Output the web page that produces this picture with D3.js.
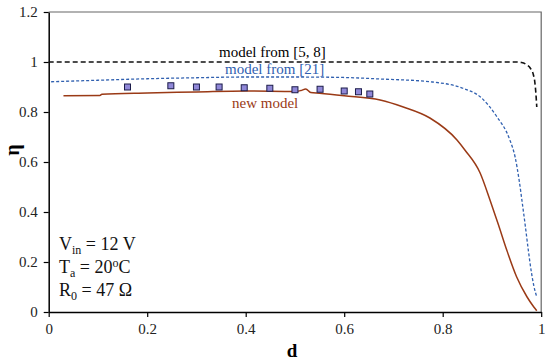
<!DOCTYPE html>
<html><head><meta charset="utf-8">
<script src="https://cdn.jsdelivr.net/npm/d3@7"></script>
<style>body{margin:0;background:#fff}svg{display:block}</style>
</head><body>
<svg id="c" width="550" height="362"></svg>
<script>
// ----- data -----
const xTicks = [0, 0.2, 0.4, 0.6, 0.8, 1];
const yTicks = [0, 0.2, 0.4, 0.6, 0.8, 1, 1.2];
const xTickLabels = ["0", "0.2", "0.4", "0.6", "0.8", "1"];
const yTickLabels = ["0", "0.2", "0.4", "0.6", "0.8", "1", "1.2"];

const model58_d   = [0, 0.2, 0.4, 0.6, 0.8, 0.95, 0.96, 0.97, 0.978, 0.984, 0.987, 0.989, 0.991];
const model58_eta = [1.0, 1.0, 1.0, 1.0, 1.0, 1.0, 0.998, 0.99, 0.975, 0.95, 0.92, 0.88, 0.82];

const model21_d   = [0.005, 0.1, 0.2, 0.3, 0.4, 0.5, 0.6, 0.673, 0.774, 0.841, 0.876, 0.91, 0.936, 0.947, 0.955, 0.962, 0.968, 0.974, 0.98, 0.985, 0.991];
const model21_eta = [0.921, 0.927, 0.933, 0.937, 0.94, 0.94, 0.938, 0.932, 0.921, 0.895, 0.861, 0.781, 0.69, 0.62, 0.53, 0.43, 0.34, 0.245, 0.16, 0.105, 0.06];

const newModel_d   = [0.03, 0.104, 0.108, 0.2, 0.3, 0.4, 0.5, 0.512, 0.522, 0.532, 0.55, 0.6, 0.673, 0.72, 0.774, 0.829, 0.845, 0.876, 0.896, 0.913, 0.93, 0.95, 0.971, 0.985, 0.991];
const newModel_eta = [0.865, 0.866, 0.871, 0.876, 0.88, 0.884, 0.882, 0.886, 0.892, 0.878, 0.875, 0.865, 0.848, 0.82, 0.776, 0.688, 0.648, 0.556, 0.448, 0.35, 0.248, 0.141, 0.061, 0.02, 0.005];

const meas_d   = [0.16, 0.248, 0.30, 0.346, 0.397, 0.449, 0.50, 0.551, 0.60, 0.629, 0.652];
const meas_eta = [0.90, 0.905, 0.90, 0.90, 0.897, 0.895, 0.889, 0.891, 0.884, 0.881, 0.872];

// ----- drawing -----
const svg = d3.select("#c");
const x = d3.scaleLinear().domain([0, 1]).range([48.7, 541.2]);
const y = d3.scaleLinear().domain([0, 1.2]).range([312, 12]);
const font = "'Liberation Serif', 'DejaVu Serif', serif";

// frame (top/right)
svg.append("path").attr("d", `M${x(0)},${y(1.2)}H${x(1)}V${y(0)}`)
  .attr("fill", "none").attr("stroke", "#666").attr("stroke-width", 1.2);

const xAxis = svg.append("g").attr("transform", `translate(0,${y(0)})`)
  .call(d3.axisBottom(x).tickValues(xTicks).tickFormat((d, i) => xTickLabels[i]).tickSize(5).tickSizeOuter(0).tickPadding(6));
const yAxis = svg.append("g").attr("transform", `translate(${x(0)},0)`)
  .call(d3.axisLeft(y).tickValues(yTicks).tickFormat((d, i) => yTickLabels[i]).tickSize(5).tickSizeOuter(0).tickPadding(6));
[xAxis, yAxis].forEach(a => {
  a.attr("font-family", font).attr("font-size", 15);
  a.select(".domain").attr("stroke", "#000").attr("stroke-width", 1.5);
  a.selectAll(".tick line").attr("stroke", "#000").attr("stroke-width", 1.2);
  a.selectAll(".tick text").attr("fill", "#222");
});

const line = d3.line().x(p => x(p[0])).y(p => y(p[1])).curve(d3.curveMonotoneX);
const zip = (a, b) => a.map((v, i) => [v, b[i]]);

svg.append("path").datum(zip(model58_d, model58_eta)).attr("d", line)
  .attr("fill", "none").attr("stroke", "#111").attr("stroke-width", 1.6).attr("stroke-dasharray", "5,3");
svg.append("path").datum(zip(model21_d, model21_eta)).attr("d", line)
  .attr("fill", "none").attr("stroke", "#3060b0").attr("stroke-width", 1.3).attr("stroke-dasharray", "3,2");
svg.append("path").datum(zip(newModel_d, newModel_eta)).attr("d", line)
  .attr("fill", "none").attr("stroke", "#9a3a16").attr("stroke-width", 1.5);

svg.append("g").selectAll("rect").data(zip(meas_d, meas_eta)).join("rect")
  .attr("x", p => x(p[0]) - 3).attr("y", p => y(p[1]) - 3)
  .attr("width", 6).attr("height", 6)
  .attr("fill", "#9088d8").attr("stroke", "#1c1c4a").attr("stroke-width", 1);

// all free text in one group with serif font
const tg = svg.append("g").attr("font-family", font);
const lbl = (t, xx, yy, c) => tg.append("text").attr("x", xx).attr("y", yy)
  .attr("font-size", 15).attr("fill", c).text(t);
lbl("model from [5, 8]", 219, 57, "#000");
lbl("model from [21]", 225, 74, "#3060b0");
lbl("new model", 232, 108, "#9a3a16");

// axis titles
tg.append("text").attr("x", 292).attr("y", 357).attr("text-anchor", "middle")
  .attr("font-size", 19).attr("font-weight", "bold").text("d");
tg.append("text").attr("transform", "translate(19,150) rotate(-90)").attr("text-anchor", "middle")
  .attr("font-size", 20).attr("font-weight", "bold").text("η");

// annotation
const ann = tg.append("text").attr("font-size", 18).attr("fill", "#111");
const l1 = ann.append("tspan").attr("x", 59).attr("y", 250);
l1.append("tspan").text("V");
l1.append("tspan").attr("font-size", 12).attr("dy", 4).text("in");
l1.append("tspan").attr("dy", -4).text(" = 12 V");
const l2 = ann.append("tspan").attr("x", 59).attr("y", 273);
l2.append("tspan").text("T");
l2.append("tspan").attr("font-size", 12).attr("dy", 4).text("a");
l2.append("tspan").attr("dy", -4).text(" = 20");
l2.append("tspan").attr("font-size", 12).attr("dy", -6).text("o");
l2.append("tspan").attr("dy", 6).text("C");
const l3 = ann.append("tspan").attr("x", 59).attr("y", 296);
l3.append("tspan").text("R");
l3.append("tspan").attr("font-size", 12).attr("dy", 4).text("0");
l3.append("tspan").attr("dy", -4).text(" = 47 Ω");
</script>
</body></html>
